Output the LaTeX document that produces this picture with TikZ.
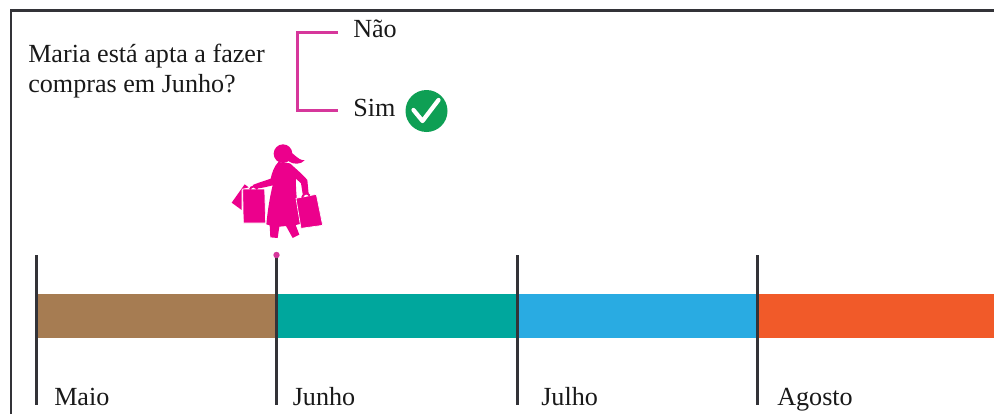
\documentclass[tikz,border=0pt]{standalone}
\usepackage{fontspec}
\setmainfont{Liberation Serif}
\definecolor{marrom}{HTML}{A67C52}
\definecolor{verdeagua}{HTML}{00A79D}
\definecolor{azul}{HTML}{29ABE2}
\definecolor{laranja}{HTML}{F15A29}
\definecolor{rosa}{HTML}{EC008C}
\definecolor{chave}{HTML}{D6379B}
\definecolor{verde}{HTML}{0E9F54}
\definecolor{traco}{HTML}{333338}
\tikzset{
    texto/.style={anchor=base west,inner sep=0pt,text=black!90,font=\fontsize{19.6}{24}\selectfont},
    marca/.style={line width=1.9pt,traco},
    sacola/.style={fill=rosa,draw=white,line width=0.5pt},
}

\begin{document}
\begin{tikzpicture}[x=0.75pt,y=-0.75pt]
            \useasboundingbox (0,0) rectangle (994,414);
            \draw[line width=1.7pt,traco] (11,414) -- (11,10.5) -- (994,10.5);

            \node[texto] (pergunta) at (28,62) {Maria está apta a fazer};
            \node[texto] (pergunta2) at (28,92) {compras em Junho?};
            \node[texto] (nao) at (353,37.5) {Não};
            \node[texto] (sim) at (353,116) {Sim};
            \coordinate (naofim) at (338,32.5);
            \coordinate (simfim) at (338,110.5);
            \coordinate (canto) at (297.5,32.5);
            \draw[line width=2.2pt,chave] (naofim) -- (canto) |- (simfim);

            \node[circle,fill=verde,minimum size=31.5pt,inner sep=0pt] (certo) at (426.5,111) {};
            \draw[white,line width=3.2pt,line cap=round,line join=round] ([shift={(-13,-1)}]certo.center) -- ([shift={(-4,10)}]certo.center) -- ([shift={(12,-11)}]certo.center);

            \fill[marrom] (36,294) rectangle (277,338);
            \fill[verdeagua] (277,294) rectangle (517,338);
            \fill[azul] (517,294) rectangle (758,338);
            \fill[laranja] (758,294) rectangle (994,338);

            \coordinate (maio) at (36.5,255);
            \coordinate (junho) at (276.5,255);
            \coordinate (julho) at (517.5,255);
            \coordinate (agosto) at (757.5,255);
            \draw[marca] (maio) -- ++(0,150);
            \draw[marca] (junho) -- ++(0,150);
            \draw[marca] (julho) -- ++(0,150);
            \draw[marca] (agosto) -- ++(0,150);
            \fill[chave] (junho) circle[radius=3.2];

            \node[texto] (maiotxt) at (54,405) {Maio};
            \node[texto] (junhotxt) at (292.5,405) {Junho};
            \node[texto] (julhotxt) at (541,405) {Julho};
            \node[texto] (agostotxt) at (777,405) {Agosto};

            \begin{scope}[shift={(200,130)},x=0.25pt,y=-0.25pt,rosa]
            \fill (249,71) circle[radius=28];
            \fill (268,66) .. controls (285,70) and (290,90) .. (314,91) .. controls (302,104) and (280,104) .. (266,94) -- cycle;
            \fill (235,96) -- (270,100) .. controls (287,116) and (308,133) .. (322,150) -- (326,192) -- (308,192) -- (303,160) -- (288,146) .. controls (286,190) and (295,240) .. (300,282) -- (287,285) -- (298,314) -- (278,324) -- (258,288) -- (238,290) -- (233,324) -- (211,322) -- (209,286) -- (199,283) .. controls (203,240) and (210,198) .. (218,166) .. controls (203,170) and (185,174) .. (165,177) -- (158,165) .. controls (178,157) and (198,151) .. (212,146) .. controls (216,128) and (222,110) .. (235,96) -- cycle;
            \fill (134,163) -- (146,172) -- (125,178) -- (125,240) -- (95,218) -- cycle;
            \draw[sacola] (128,177) -- (194,177) -- (197,279) -- (130,279) -- cycle;
            \draw[sacola] (288,205) -- (349,193) -- (368,286) -- (303,295) -- cycle;
            \draw[line width=1.4pt] (150,178) .. controls (152,167) and (170,167) .. (172,178);
            \draw[line width=1.4pt] (306,203) .. controls (310,189) and (323,187) .. (329,197);
            \end{scope}
        \end{tikzpicture}
\end{document}
